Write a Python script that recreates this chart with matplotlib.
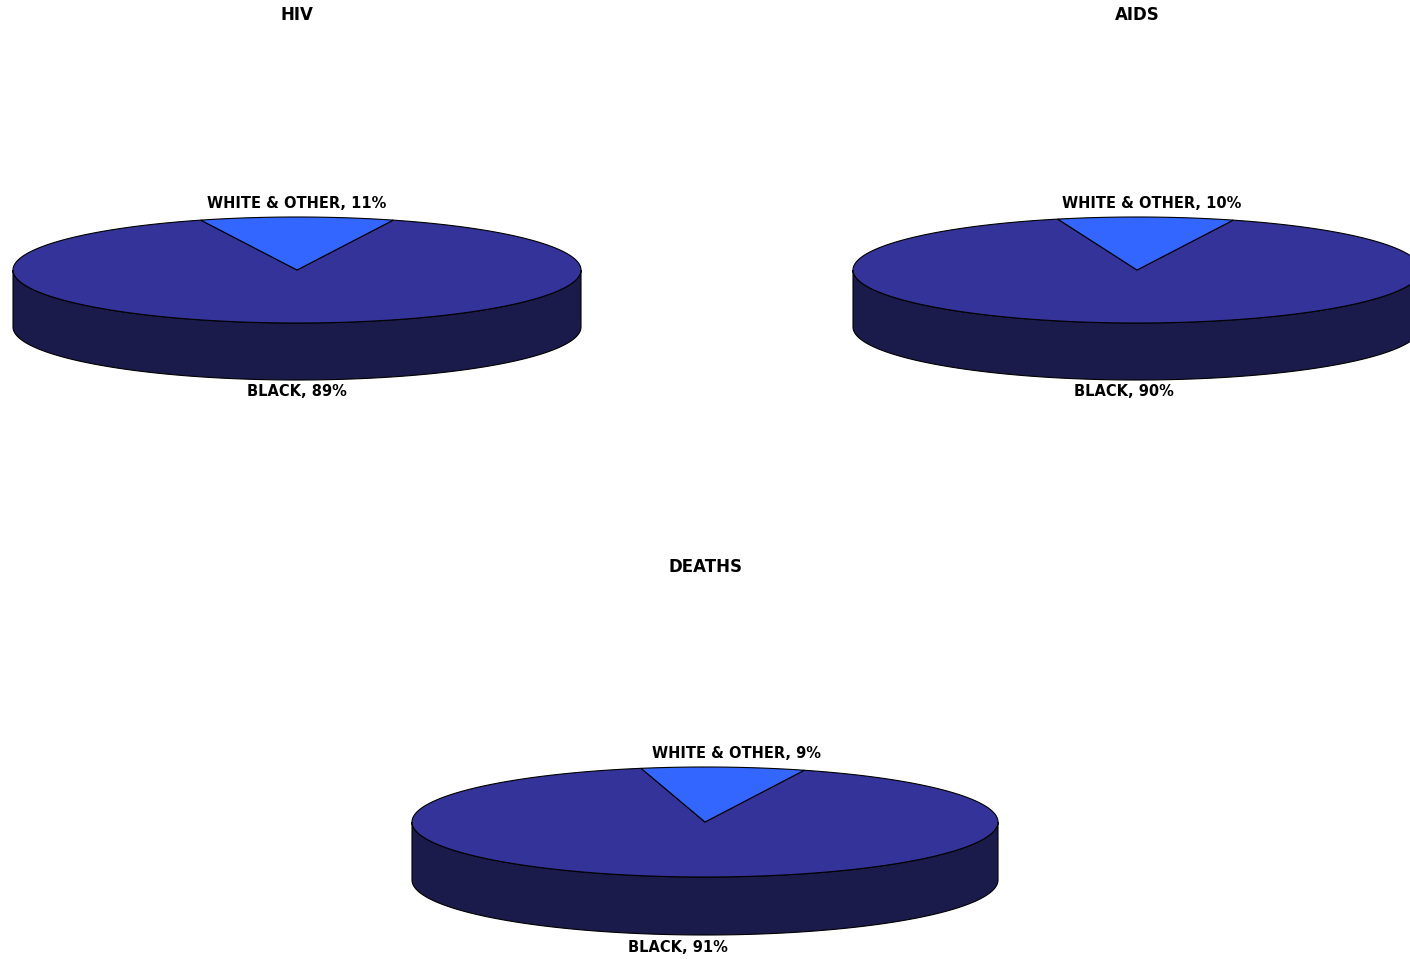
import numpy as np
import matplotlib.pyplot as plt
from matplotlib.patches import Polygon

# data
titles = ["HIV", "AIDS", "DEATHS"]
categories = ["BLACK", "WHITE & OTHER"]
black_pct = [89, 90, 91]
white_pct = [11, 10, 9]

top_colors = ["#333399", "#3366FF"]
side_colors = ["#1B1B4B", "#1F3D99"]

plt.rcParams['font.family'] = ['DejaVu Sans']


def arc(cx, cy, rx, ry, a0, a1, n=200):
    t = np.radians(np.linspace(a0, a1, n))
    return cx + rx * np.cos(t), cy - ry * np.sin(t)


def pie3d(ax, cx, cy, rx, ry, depth, values, start=70.2):
    total = float(sum(values))
    spans = []
    a = start
    for v in values:
        sweep = 360.0 * v / total
        spans.append((a - sweep, a))  # clockwise from start
        a -= sweep

    # side walls (front half: angles between 180 and 360 mod 360)
    for i, (a0, a1) in enumerate(spans):
        for k in range(-1, 2):
            lo = max(a0, 180 + 360 * k)
            hi = min(a1, 360 + 360 * k)
            if hi <= lo:
                continue
            xs, ys = arc(cx, cy, rx, ry, lo, hi)
            pts = np.concatenate([np.column_stack([xs, ys]),
                                  np.column_stack([xs[::-1], ys[::-1] + depth])])
            ax.add_patch(Polygon(pts, closed=True, facecolor=side_colors[i],
                                 edgecolor='black', lw=0.8))

    # top wedges
    for i, (a0, a1) in enumerate(spans):
        xs, ys = arc(cx, cy, rx, ry, a0, a1)
        pts = np.vstack([[cx, cy], np.column_stack([xs, ys])])
        ax.add_patch(Polygon(pts, closed=True, facecolor=top_colors[i],
                             edgecolor='black', lw=0.8))
    return spans


fig = plt.figure(figsize=(14.1, 9.59), dpi=100)
ax = fig.add_axes([0, 0, 1, 1])
ax.set_xlim(0, 1410)
ax.set_ylim(959, 0)
ax.axis('off')

layout = [
    (297, 270, 284, 53, 57, 15),
    (1137, 270, 284, 53, 57, 15),
    (705, 822, 293, 55, 58, 567),
]

for j, (cx, cy, rx, ry, depth, ty) in enumerate(layout):
    spans = pie3d(ax, cx, cy, rx, ry, depth, [black_pct[j], white_pct[j]])
    ax.text(cx, ty, titles[j], ha='center', va='center',
            fontsize=12, fontweight='bold')
    mid_w = np.radians(sum(spans[1]) / 2)
    mid_b = np.radians(sum(spans[0]) / 2)
    ax.text(cx + 1.7 * rx * np.cos(mid_w), cy - ry - 14,
            f"{categories[1]}, {white_pct[j]}%", ha='center', va='center',
            fontsize=10.5, fontweight='bold')
    ax.text(cx + 1.45 * rx * np.cos(mid_b), cy + ry + depth + 12,
            f"{categories[0]}, {black_pct[j]}%", ha='center', va='center',
            fontsize=10.5, fontweight='bold')

fig.savefig("out.png", dpi=100)
